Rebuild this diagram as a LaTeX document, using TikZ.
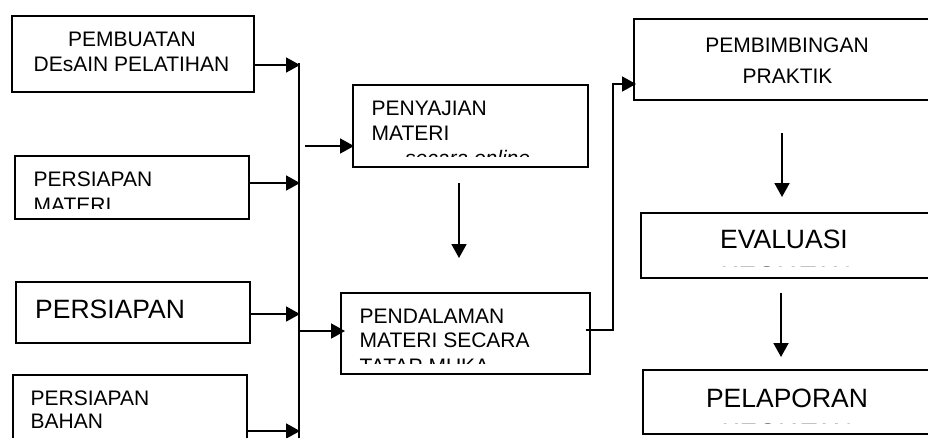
\documentclass[tikz,border=0pt]{standalone}
\usepackage{fontspec}
\setmainfont{Liberation Sans}
\usetikzlibrary{arrows.meta}

\tikzset{
  box/.style={draw, line width=1.5pt, inner sep=0pt, anchor=north west},
  lbl/.style={inner sep=0pt, anchor=base west, font=\fontsize{21}{25}\selectfont},
  clbl/.style={inner sep=0pt, anchor=base, font=\fontsize{21}{25}\selectfont},
  big/.style={font=\fontsize{26.5}{31}\selectfont},
  wire/.style={line width=1.8pt},
  conn/.style={wire, -{Triangle[length=14pt,width=15pt]}},
}

\begin{document}
\begin{tikzpicture}[x=1pt, y=-1pt]
  \useasboundingbox (0,0) rectangle (928,437);
  \path[clip] (0,0) rectangle (928,437);
  \fill[white] (0,0) rectangle (928,437);

  % ---- left column: preparation boxes ----
  \node[box, minimum width=242pt, minimum height=76pt] (b1) at (11,15) {};
  \node[clbl] (b1a) at (132,46.7) {PEMBUATAN};
  \node[clbl] (b1b) at (131.5,71.7) {DEsAIN PELATIHAN};

  \node[box, minimum width=234pt, minimum height=63pt] (b2) at (14,155) {};
  \node[lbl] (b2a) at (33.5,186.7) {PERSIAPAN};
  \begin{scope}
    \clip (14,155) rectangle (248,208);
    \node[lbl] (b2b) at (33.5,212) {MATERI};
  \end{scope}

  \node[box, minimum width=234pt, minimum height=61pt] (b3) at (15,281) {};
  \node[lbl, big] (b3a) at (35,318.3) {PERSIAPAN};

  \node[box, minimum width=234pt, minimum height=80pt] (b4) at (12,374) {};
  \node[lbl] (b4a) at (30.5,405) {PERSIAPAN};
  \node[lbl] (b4b) at (30.5,428) {BAHAN};

  % ---- collecting bus ----
  \coordinate (busTop) at (299,63);
  \coordinate (busBot) at (299,440);
  \draw[wire] (busTop) -- (busBot);
  \coordinate (j1) at (300,65);
  \coordinate (j2) at (300,183);
  \coordinate (j3) at (300,314);
  \coordinate (j4) at (300,431);
  \draw[conn] (b1.east |- j1) -- (j1);
  \draw[conn] (b2.east |- j2) -- (j2);
  \draw[conn] (b3.east |- j3) -- (j3);
  \draw[conn] (b4.east |- j4) -- (j4);

  % ---- middle column ----
  \node[box, minimum width=235pt, minimum height=82pt] (b5) at (352,84) {};
  \node[lbl] (b5a) at (371.5,115) {PENYAJIAN};
  \node[lbl] (b5b) at (371.5,140) {MATERI};
  \begin{scope}
    \clip (352,84) rectangle (587,156);
    \node[lbl, font=\fontsize{21}{25}\selectfont\itshape] (b5c) at (405,165.5) {secara online};
  \end{scope}

  \node[box, minimum width=249pt, minimum height=81pt] (b6) at (340,292) {};
  \node[lbl] (b6a) at (359.5,323) {PENDALAMAN};
  \node[lbl] (b6b) at (359.5,347) {MATERI SECARA};
  \begin{scope}
    \clip (340,292) rectangle (589,363);
    \node[lbl] (b6c) at (359.5,373.5) {TATAP MUKA};
  \end{scope}

  \coordinate (s5) at (305,146);
  \coordinate (s6) at (299,331);
  \draw[conn] (s5) -- ([xshift=2pt]b5.west |- s5);
  \draw[conn] (s6) -- ([xshift=5pt]b6.west |- s6);

  \coordinate (d1s) at (459,183);
  \coordinate (d1e) at (459,258);
  \draw[conn] (d1s) -- (d1e);

  % ---- right column (boxes run past the right margin) ----
  \node[box, minimum width=320pt, minimum height=81pt] (b7) at (633,18) {};
  \node[clbl] (b7a) at (787,52) {PEMBIMBINGAN};
  \node[clbl] (b7b) at (787.5,83) {PRAKTIK};

  \node[box, minimum width=320pt, minimum height=65pt] (b8) at (640,212) {};
  \node[clbl, big] (b8a) at (784,248) {EVALUASI};
  \begin{scope}
    \clip (640,212) rectangle (960,266);
    \node[clbl, big] (b8b) at (786,285) {KEGIATAN};
  \end{scope}

  \node[box, minimum width=320pt, minimum height=64pt] (b9) at (642,369) {};
  \node[clbl, big] (b9a) at (787,407) {PELAPORAN};
  \begin{scope}
    \clip (642,369) rectangle (962,423);
    \node[clbl, big] (b9b) at (787,442) {KEGIATAN};
  \end{scope}

  % link from the face-to-face session up to the practice guidance
  \coordinate (k1) at (613,330);
  \coordinate (k2) at (613,84);
  \draw[wire] ([xshift=-5pt]b6.east |- k1) -- (k1) -- (k2);
  \draw[conn] ([xshift=-1pt]k2) -- ([xshift=3pt]b7.west |- k2);

  \coordinate (d2s) at (782,133);
  \coordinate (d2e) at (782,197);
  \draw[conn] (d2s) -- (d2e);
  \coordinate (d3s) at (781,293);
  \coordinate (d3e) at (781,357);
  \draw[conn] (d3s) -- (d3e);
\end{tikzpicture}
\end{document}
